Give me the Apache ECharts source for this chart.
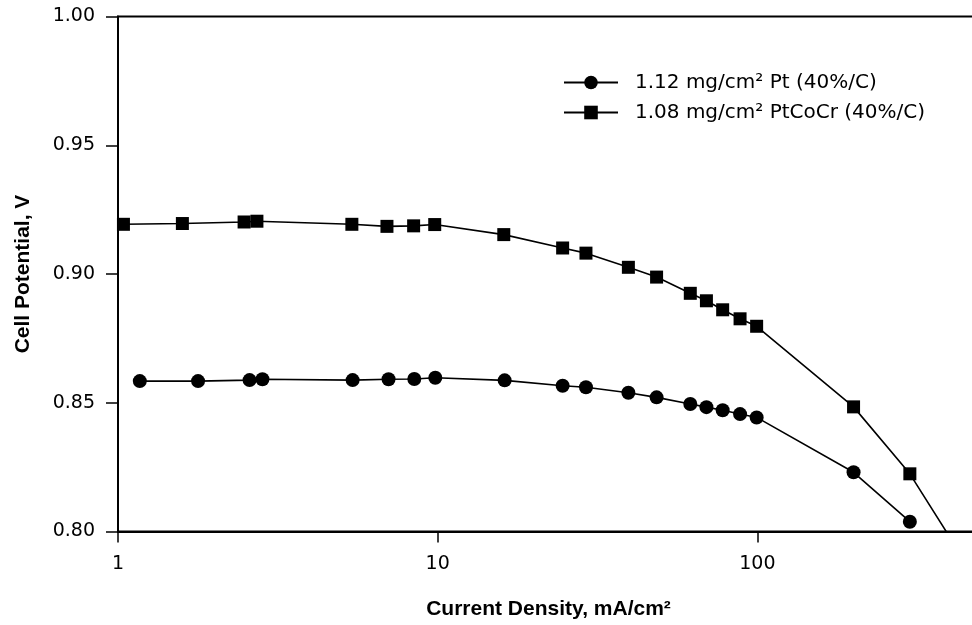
<!DOCTYPE html>
<html><head><meta charset="utf-8">
<script src="https://cdn.jsdelivr.net/npm/echarts@6/dist/echarts.min.js"></script>
<style>html,body{margin:0;padding:0;background:#fff}#c{width:972px;height:625px}</style>
</head><body><div id="c"></div>
<script>
const seriesNames = ['1.12 mg/cm\u00b2 Pt (40%/C)', '1.08 mg/cm\u00b2 PtCoCr (40%/C)'];
const xAxisTitle = 'Current Density, mA/cm\u00b2';
const yAxisTitle = 'Cell Potential, V';
const xTickValues = [1, 10, 100, 1000];
const yTickLabels = ['0.80', '0.85', '0.90', '0.95', '1.00'];

const ptX = [1.17, 1.78, 2.58, 2.83, 5.42, 7.02, 8.45, 9.83, 16.2, 24.6, 29.1, 39.5, 48.4, 61.7, 69.3, 77.9, 88.3, 99.5, 200, 300];
const ptY = [0.8584, 0.8584, 0.8588, 0.8591, 0.8588, 0.8591, 0.8592, 0.8597, 0.8587, 0.8566, 0.8560, 0.8539, 0.8521, 0.8495, 0.8483, 0.8471, 0.8456, 0.8443, 0.8230, 0.8038];

const coX = [1.04, 1.59, 2.48, 2.72, 5.39, 6.94, 8.41, 9.79, 16.1, 24.6, 29.1, 39.5, 48.4, 61.7, 69.3, 77.9, 88.3, 99.5, 200, 300, 400];
const coY = [0.9193, 0.9196, 0.9202, 0.9205, 0.9193, 0.9185, 0.9187, 0.9192, 0.9153, 0.9101, 0.9081, 0.9026, 0.8988, 0.8925, 0.8896, 0.8861, 0.8826, 0.8797, 0.8484, 0.8224, 0.7978];

function zip(xs, ys) { return xs.map((x, i) => [x, ys[i]]); }

const chart = echarts.init(document.getElementById('c'), null, { renderer: 'canvas' });
chart.setOption({
  animation: false,
  backgroundColor: '#fff',
  grid: {
    left: 118, top: 16.5, right: -105, bottom: 93.5,
    show: true, borderColor: '#000', borderWidth: 2, backgroundColor: 'transparent',
    outerBoundsMode: 'none', containLabel: false
  },
  legend: {
    orient: 'vertical', left: 563, top: 70, padding: 0,
    itemWidth: 54, itemHeight: 17, itemGap: 5,
    data: seriesNames,
    textStyle: { fontFamily: 'DejaVu Sans', fontSize: 20, color: '#000', lineHeight: 25, padding: [0, 0, 0, 12] }
  },
  xAxis: {
    type: 'log', logBase: 10, min: xTickValues[0], max: xTickValues[xTickValues.length - 1],
    name: xAxisTitle, nameLocation: 'middle', nameGap: 67,
    nameTextStyle: { fontFamily: 'Liberation Sans', fontWeight: 'bold', fontSize: 21, color: '#000', padding: [0, 98, 0, 0] },
    axisLine: { lineStyle: { color: '#000', width: 2 } },
    axisTick: { length: 11, lineStyle: { color: '#000', width: 1.5 } },
    axisLabel: { margin: 23, fontFamily: 'DejaVu Sans', fontSize: 19, color: '#000',
      formatter: v => String(Math.round(v)) },
    splitLine: { show: false }, minorTick: { show: false }, minorSplitLine: { show: false }
  },
  yAxis: {
    type: 'value', min: 0.8, max: 1.0, interval: 0.05,
    name: yAxisTitle, nameLocation: 'middle', nameRotate: 90, nameGap: 84,
    nameTextStyle: { fontFamily: 'Liberation Sans', fontWeight: 'bold', fontSize: 21, color: '#000' },
    axisLine: { show: true, lineStyle: { color: '#000', width: 2 } },
    axisTick: { show: true, length: 12, lineStyle: { color: '#000', width: 1.5 } },
    axisLabel: { margin: 23, fontFamily: 'DejaVu Sans', fontSize: 19, color: '#000',
      formatter: v => yTickLabels[Math.round((v - 0.8) / 0.05)] },
    splitLine: { show: false }
  },
  series: [
    {
      type: 'line', name: seriesNames[0], data: zip(ptX, ptY),
      symbol: 'circle', symbolSize: 14, clip: true,
      lineStyle: { color: '#000', width: 1.6 }, itemStyle: { color: '#000' }
    },
    {
      type: 'line', name: seriesNames[1], data: zip(coX, coY),
      symbol: 'rect', symbolSize: 13, clip: true,
      lineStyle: { color: '#000', width: 1.6 }, itemStyle: { color: '#000' }
    }
  ]
});
</script>
</body></html>
